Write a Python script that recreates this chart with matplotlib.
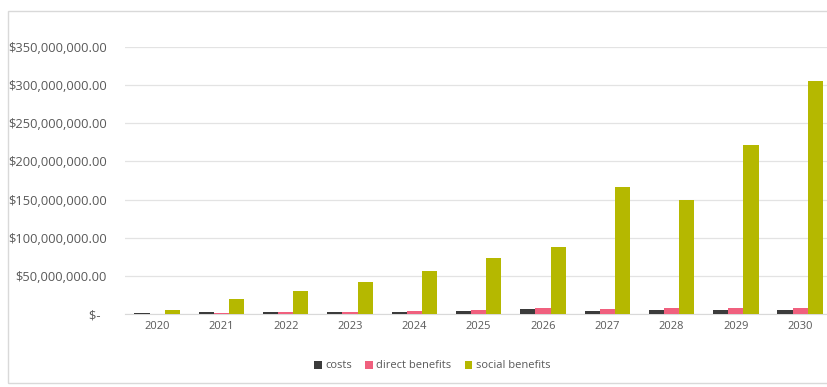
import matplotlib
matplotlib.use("Agg")
import matplotlib.pyplot as plt
import numpy as np
from matplotlib.patches import Rectangle

years = ["2020", "2021", "2022", "2023", "2024", "2025", "2026", "2027", "2028", "2029", "2030"]
costs = [1.0e6, 2.0e6, 2.0e6, 3.0e6, 3.0e6, 4.0e6, 6.5e6, 4.5e6, 5.5e6, 5.0e6, 5.0e6]
direct_benefits = [0.5e6, 1.0e6, 2.0e6, 3.0e6, 4.0e6, 5.0e6, 7.5e6, 7.0e6, 7.5e6, 7.5e6, 8.0e6]
social_benefits = [5e6, 20e6, 30e6, 42e6, 56e6, 73e6, 88e6, 166e6, 150e6, 221e6, 306e6]
yticks = [0, 50e6, 100e6, 150e6, 200e6, 250e6, 300e6, 350e6]
ytick_labels = ["$-  ", "$50,000,000.00", "$100,000,000.00", "$150,000,000.00",
                "$200,000,000.00", "$250,000,000.00", "$300,000,000.00", "$350,000,000.00"]

plt.rcParams['font.family'] = ['Open Sans', 'DejaVu Sans']

W, H = 828, 387
fig = plt.figure(figsize=(W / 100, H / 100), dpi=100)
fig.patch.set_facecolor("white")

# outer chart frame
fig.patches.append(Rectangle((8 / W, 4 / H), 1.2, (H - 15) / H, transform=fig.transFigure,
                             fill=False, edgecolor="#d9d9d9", linewidth=1.0))

left_px, right_px = 125, 828
ax = fig.add_axes([left_px / W, (H - 314) / H, (right_px - left_px) / W, (314 - 47) / H])

x = np.arange(len(years))
bw = 0.235
c_cost = "#3b3b3b"
c_direct = "#f0607e"
c_social = "#b5b800"
ax.bar(x - bw, costs, bw, color=c_cost, label="costs", zorder=3)
ax.bar(x, direct_benefits, bw, color=c_direct, label="direct benefits", zorder=3)
ax.bar(x + bw, social_benefits, bw, color=c_social, label="social benefits", zorder=3)

ax.set_xlim(-0.5, -0.5 + (right_px - left_px) / 64.3)
ax.set_ylim(0, 350e6)
ax.set_yticks(yticks)
ax.set_yticklabels(ytick_labels, color="#595959", fontsize=9.3)
ax.set_xticks(x)
ax.set_xticklabels(years, color="#595959", fontsize=8)
ax.tick_params(axis="y", length=0, pad=13)
ax.tick_params(axis="x", length=0, pad=5)
ax.grid(axis="y", color="#e3e3e3", linewidth=0.9, zorder=0)
for s in ["top", "right", "left"]:
    ax.spines[s].set_visible(False)
ax.spines["bottom"].set_color("#d9d9d9")
ax.set_facecolor("white")

leg = fig.legend(loc="center", bbox_to_anchor=(432 / W, 1 - 366 / H), ncol=3, frameon=False,
                 fontsize=8, handlelength=0.7, handleheight=0.7, handletextpad=0.3,
                 columnspacing=1.2)
for t in leg.get_texts():
    t.set_color("#595959")

fig.savefig("out.png", dpi=100, facecolor="white")
